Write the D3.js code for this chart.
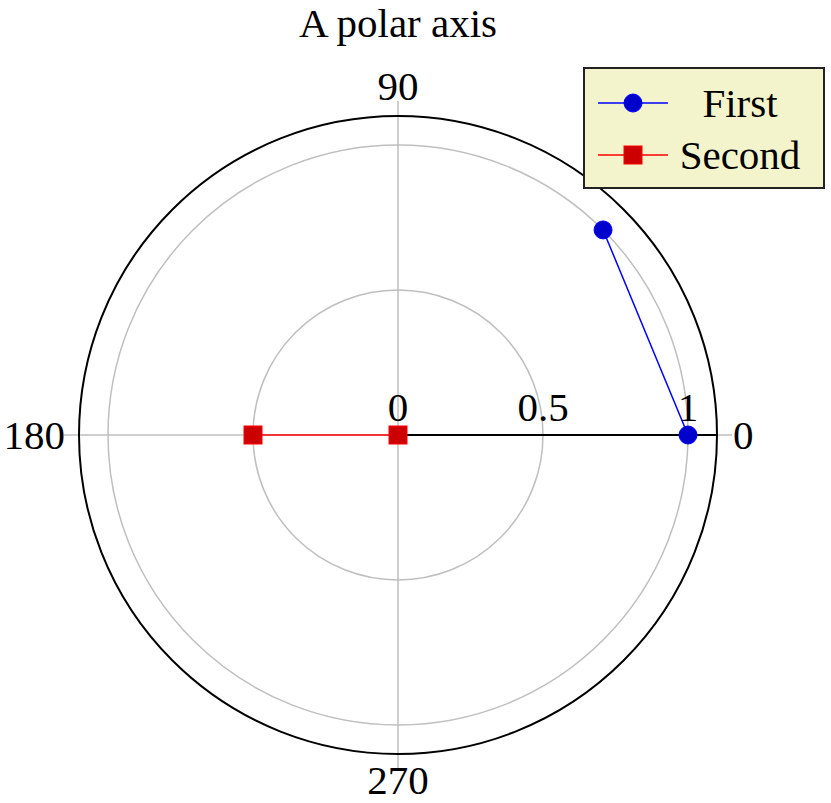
<!DOCTYPE html>
<html>
<head>
<meta charset="utf-8">
<script src="https://cdn.jsdelivr.net/npm/d3@7"></script>
<style>
  body { margin: 0; background: #fff; }
  svg text { font-family: "Liberation Serif", "DejaVu Serif", serif; fill: #000; }
</style>
</head>
<body>
<div id="chart"></div>
<script>
// Data (angle in degrees, radius)
const firstAngles = [0, 45];
const firstRadii = [1, 1];
const secondAngles = [180, 0];
const secondRadii = [0.5, 0];
const angleTicks = [0, 90, 180, 270];
const radialTicks = [0, 0.5, 1];
const radialGrid = [0.5, 1];
const radialMax = 1.1;
const seriesNames = ["First", "Second"];
const titleText = "A polar axis";

const width = 831, height = 803;
const cx = 398, cy = 435;
const outerR = 319;

const svg = d3.select("#chart").append("svg")
    .attr("width", width)
    .attr("height", height);

const r = d3.scaleLinear().domain([0, radialMax]).range([0, outerR]);
const toRad = d => (90 - d) * Math.PI / 180; // lineRadial: 0 = up, clockwise

const g = svg.append("g").attr("transform", `translate(${cx},${cy})`);

// grid circles
g.selectAll(".rgrid")
    .data(radialGrid)
    .enter().append("circle")
    .attr("r", d => r(d))
    .attr("fill", "none")
    .attr("stroke", "#bfbfbf")
    .attr("stroke-width", 1.5);

// angular grid lines (through center) + small ticks outside
const tickLen = 15;
g.selectAll(".agrid")
    .data(angleTicks)
    .enter().append("line")
    .attr("x1", 0).attr("y1", 0)
    .attr("x2", d => (outerR + tickLen) * Math.cos(d * Math.PI / 180))
    .attr("y2", d => -(outerR + tickLen) * Math.sin(d * Math.PI / 180))
    .attr("stroke", "#bfbfbf")
    .attr("stroke-width", 1.5);

// outer circle
g.append("circle")
    .attr("r", outerR)
    .attr("fill", "none")
    .attr("stroke", "#000")
    .attr("stroke-width", 2);

// radial axis line
g.append("line")
    .attr("x1", 0).attr("y1", 0)
    .attr("x2", outerR).attr("y2", 0)
    .attr("stroke", "#000")
    .attr("stroke-width", 2);

// angular tick labels
const edge = outerR + tickLen;
g.selectAll(".alabel")
    .data(angleTicks)
    .enter().append("text")
    .attr("x", d => d === 0 ? edge + 1 : d === 180 ? -edge + 1 : 0)
    .attr("y", d => d === 90 ? -edge - 1 : d === 270 ? edge + 25 : 0)
    .attr("text-anchor", d => d === 0 ? "start" : d === 180 ? "end" : "middle")
    .attr("dy", d => (d === 0 || d === 180) ? "0.33em" : 0)
    .style("font-size", "41px")
    .text(d => d);

// radial tick labels
g.selectAll(".rlabel")
    .data(radialTicks)
    .enter().append("text")
    .attr("x", d => r(d))
    .attr("y", -14)
    .attr("text-anchor", "middle")
    .style("font-size", "41px")
    .text(d => d);

// series
const line = d3.lineRadial()
    .angle(d => toRad(d[0]))
    .radius(d => r(d[1]));

const first = firstAngles.map((a, i) => [a, firstRadii[i]]);
const second = secondAngles.map((a, i) => [a, secondRadii[i]]);

g.append("path")
    .attr("d", line(first))
    .attr("fill", "none")
    .attr("stroke", "#0000ff")
    .attr("stroke-width", 1.5);

g.append("path")
    .attr("d", line(second))
    .attr("fill", "none")
    .attr("stroke", "#ff0000")
    .attr("stroke-width", 1.5);

const px = d => r(d[1]) * Math.cos(d[0] * Math.PI / 180);
const py = d => -r(d[1]) * Math.sin(d[0] * Math.PI / 180);

g.selectAll(".m1")
    .data(first)
    .enter().append("circle")
    .attr("cx", px).attr("cy", py)
    .attr("r", 9)
    .attr("fill", "#0000cc")
    .attr("stroke", "#0000ff")
    .attr("stroke-width", 1);

g.selectAll(".m2")
    .data(second)
    .enter().append("rect")
    .attr("x", d => px(d) - 9).attr("y", d => py(d) - 9)
    .attr("width", 18).attr("height", 18)
    .attr("fill", "#cc0000")
    .attr("stroke", "#ff0000")
    .attr("stroke-width", 1);

// title
svg.append("text")
    .attr("x", cx)
    .attr("y", 37)
    .attr("text-anchor", "middle")
    .style("font-size", "41px")
    .text(titleText);

// legend
const legend = svg.append("g");
legend.append("rect")
    .attr("x", 584).attr("y", 68)
    .attr("width", 240).attr("height", 120)
    .attr("fill", "#f4f4cc")
    .attr("stroke", "#222")
    .attr("stroke-width", 2);

const rowY = [103, 155];
seriesNames.forEach((name, i) => {
    const y = rowY[i];
    const col = i === 0 ? "#0000ff" : "#ff0000";
    legend.append("line")
        .attr("x1", 598).attr("x2", 668)
        .attr("y1", y).attr("y2", y)
        .attr("stroke", col)
        .attr("stroke-width", 1.5);
    if (i === 0) {
        legend.append("circle")
            .attr("cx", 633).attr("cy", y).attr("r", 9)
            .attr("fill", "#0000cc").attr("stroke", "#0000ff");
    } else {
        legend.append("rect")
            .attr("x", 624).attr("y", y - 9).attr("width", 18).attr("height", 18)
            .attr("fill", "#cc0000").attr("stroke", "#ff0000");
    }
    legend.append("text")
        .attr("x", 740)
        .attr("y", y)
        .attr("dy", "0.35em")
        .attr("text-anchor", "middle")
        .style("font-size", "41px")
        .text(name);
});
</script>
</body>
</html>
